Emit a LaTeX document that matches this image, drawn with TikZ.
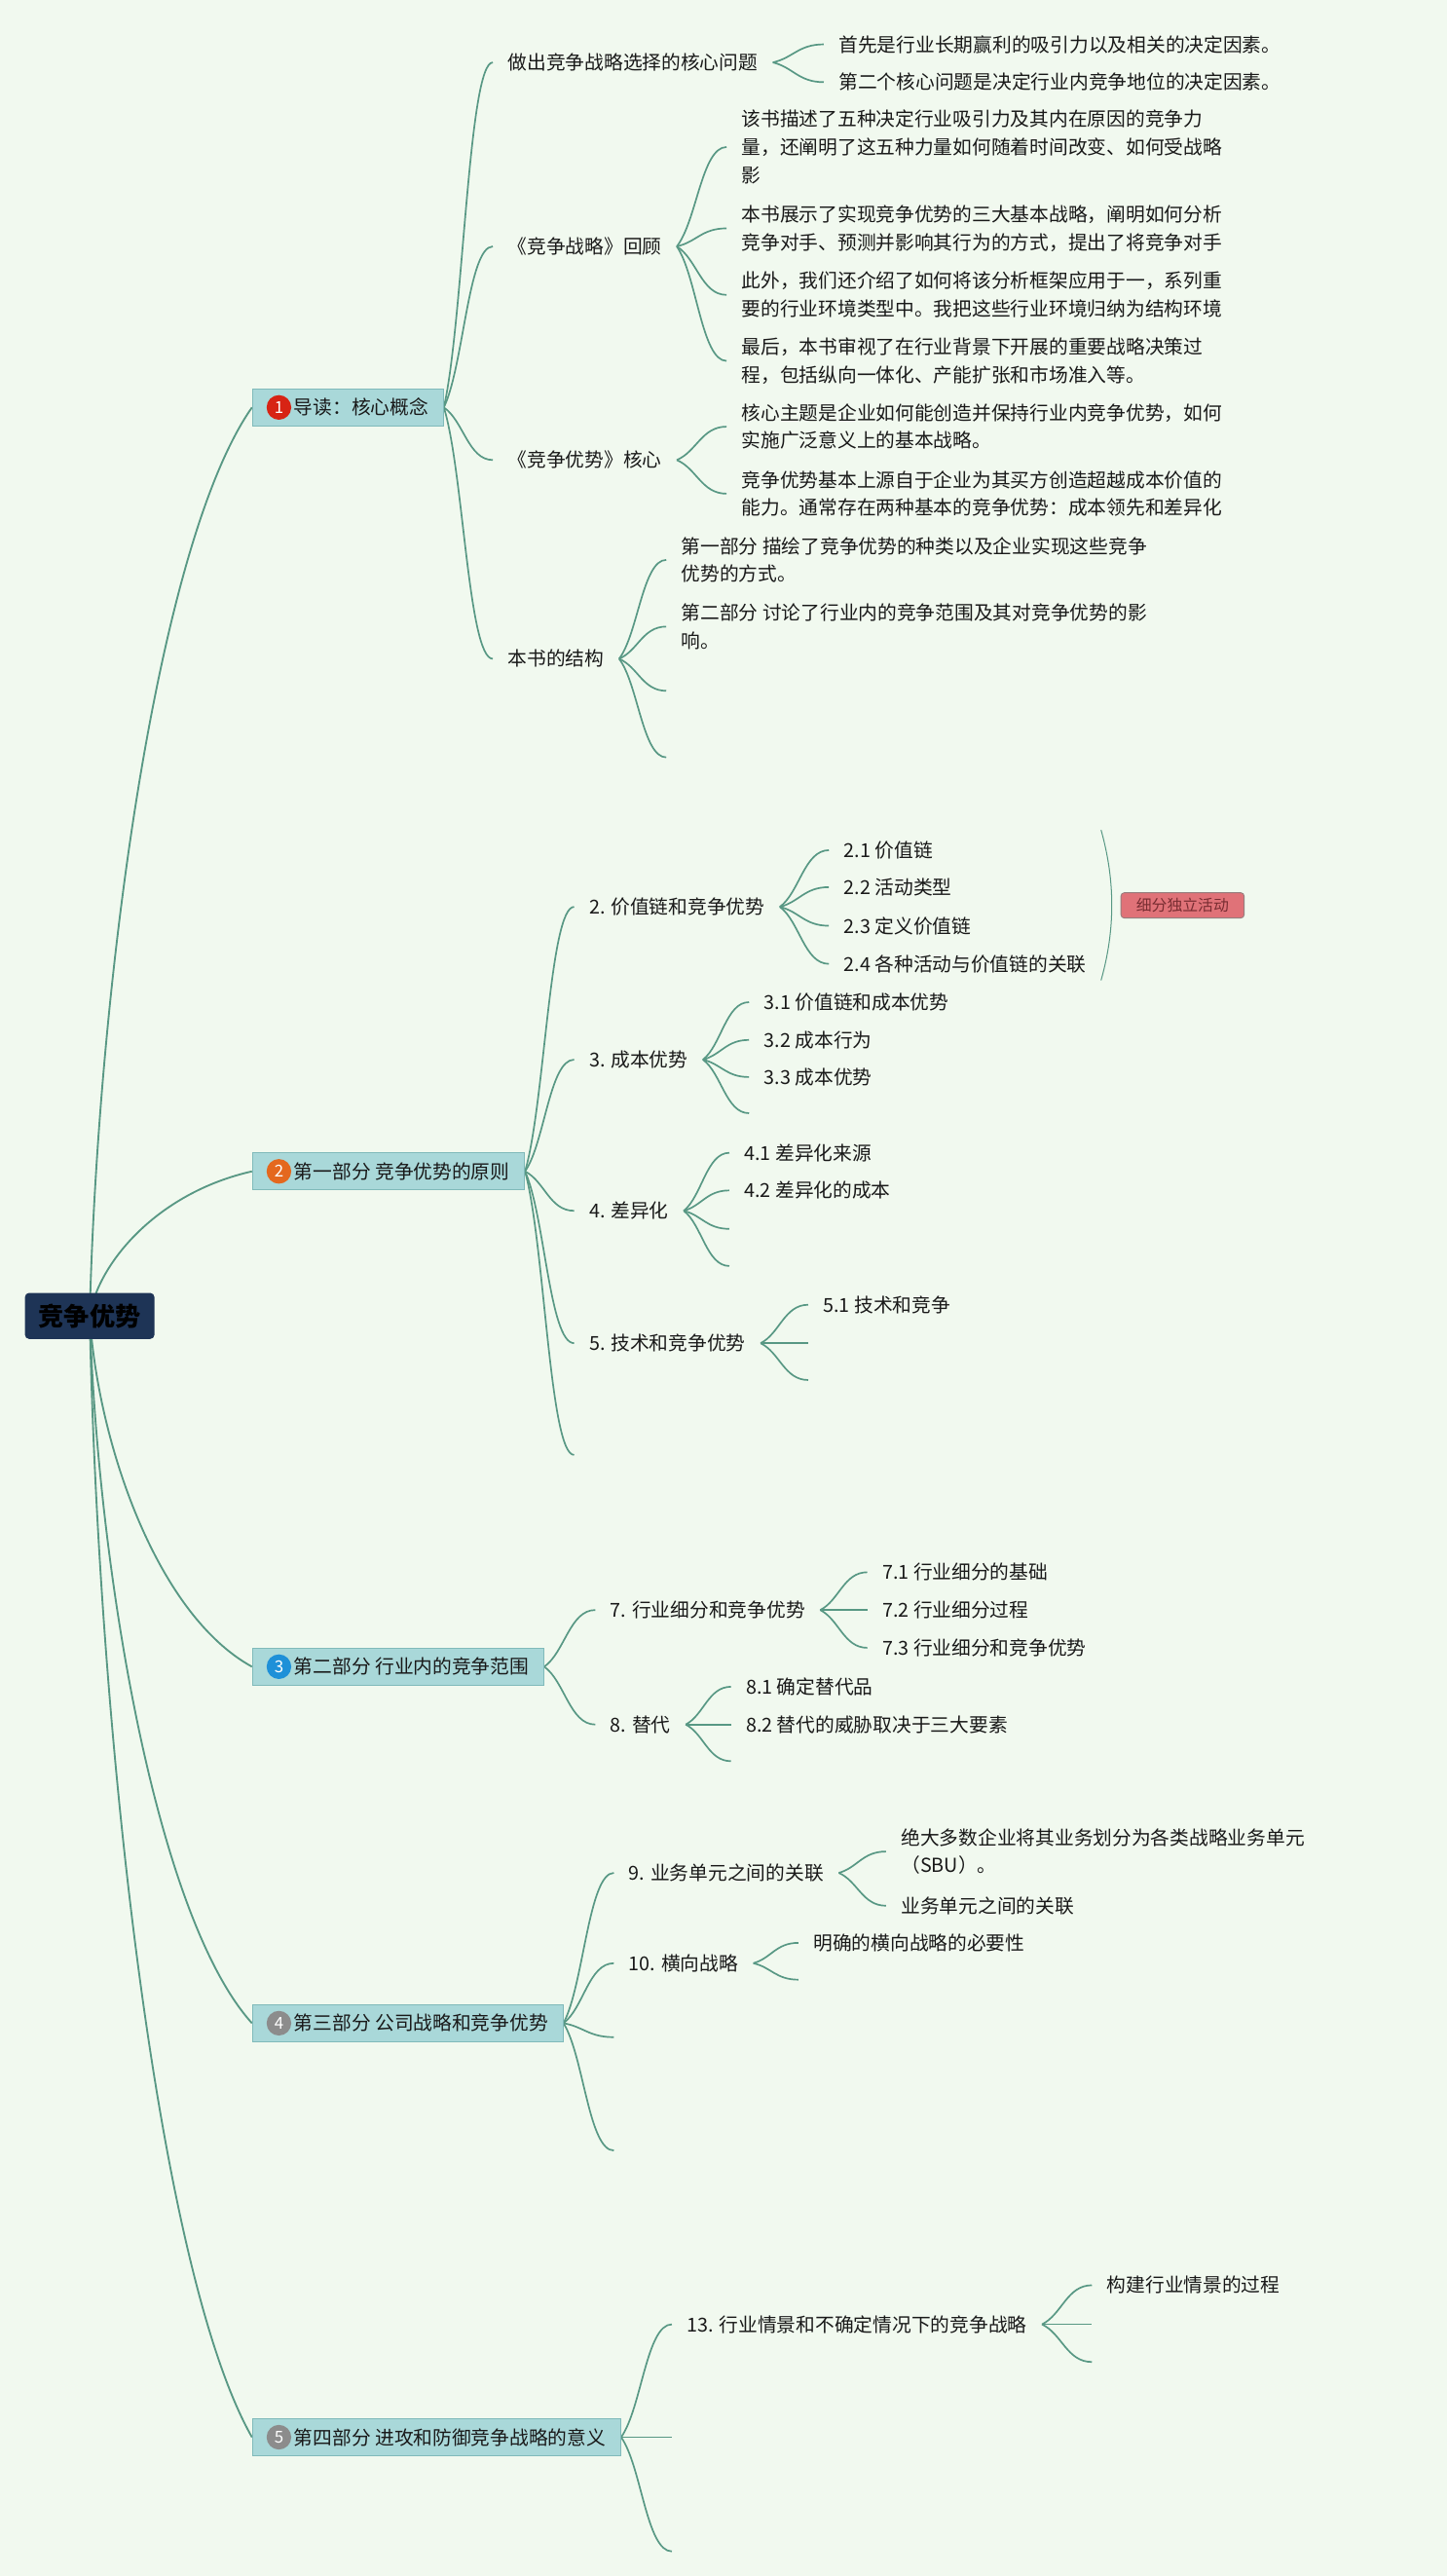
\documentclass[tikz,border=0pt]{standalone}
\usepackage{fontspec}
\setmainfont{Noto Sans CJK SC}
\usetikzlibrary{calc}
\definecolor{bgc}{RGB}{241,249,239}
\definecolor{lnc}{RGB}{88,152,132}
\definecolor{l1fill}{RGB}{169,216,217}
\definecolor{l1draw}{RGB}{128,186,186}
\definecolor{rootc}{RGB}{30,52,86}
\definecolor{txt}{RGB}{25,25,25}
\definecolor{nred}{RGB}{215,35,20}
\definecolor{norange}{RGB}{228,104,30}
\definecolor{nblue}{RGB}{30,144,216}
\definecolor{ngray}{RGB}{140,140,140}
\definecolor{sumfill}{RGB}{224,114,120}
\definecolor{sumdraw}{RGB}{150,125,125}
\definecolor{sumtxt}{RGB}{120,45,50}
\pgfdeclarelayer{bg}\pgfdeclarelayer{lines}\pgfsetlayers{bg,lines,main}
\begin{document}
\begin{tikzpicture}[x=1pt,y=-1pt,
  br/.style={draw=lnc, line width=1pt, to path={let \p1=(\tikztostart), \p2=(\tikztotarget) in
     .. controls ({\x1+0.4*(\x2-\x1)},{\y1+0.25*(\y2-\y1)}) and ({\x1+0.5*(\x2-\x1)},\y2) .. (\tikztotarget)}},
  rt/.style={draw=lnc, line width=1.1pt, to path={let \p1=(\tikztostart), \p2=(\tikztotarget) in
     .. controls ({\x1+0.05*(\x2-\x1)},{\y1+0.36*(\y2-\y1)}) and ({\x1+0.41*(\x2-\x1)},{\y1+0.85*(\y2-\y1)}) .. (\tikztotarget)}},
  tx/.style={anchor=west, inner xsep=9pt, inner ysep=1pt, text=txt, font=\fontsize{11.7pt}{17pt}\selectfont},
  txm/.style={tx, align=left},
  l1/.style={anchor=west, draw=l1draw, fill=l1fill, line width=0.6pt, inner xsep=9pt, inner ysep=0pt,
     minimum height=22.8pt, text=txt, font=\fontsize{11.7pt}{14pt}\selectfont},
  num/.style={circle, minimum size=15pt, inner sep=0pt, text=white, font=\fontsize{10pt}{10pt}\selectfont},
  rootbox/.style={rounded corners=2.5pt, fill=rootc, text=black, font=\fontsize{15.5pt}{18pt}\selectfont\bfseries,
     minimum width=78.8pt, minimum height=28pt, inner sep=0pt},
  sumbox/.style={rounded corners=2pt, fill=sumfill, draw=sumdraw, line width=0.5pt, text=sumtxt,
     font=\fontsize{9.4pt}{11pt}\selectfont, minimum width=75pt, minimum height=15.4pt, inner sep=0pt}
]
\useasboundingbox (0,0) rectangle (881,1568);
\begin{pgfonlayer}{bg}
\fill[bgc] (0,0) rectangle (881,1568);
\end{pgfonlayer}

% root
\node[rootbox] (root) at (54.6,801) {竞争优势};

% level 1
\node[l1] (b1) at (153.4,248) {\hspace*{16.3pt}导读：核心概念};
\node[num, fill=nred] (n1) at ([xshift=16.4pt]b1.west) {1};
\node[l1] (b2) at (153.4,713) {\hspace*{16.3pt}第一部分 竞争优势的原则};
\node[num, fill=norange] (n2) at ([xshift=16.4pt]b2.west) {2};
\node[l1] (b3) at (153.4,1014.5) {\hspace*{16.3pt}第二部分 行业内的竞争范围};
\node[num, fill=nblue] (n3) at ([xshift=16.4pt]b3.west) {3};
\node[l1] (b4) at (153.4,1231.5) {\hspace*{16.3pt}第三部分 公司战略和竞争优势};
\node[num, fill=ngray] (n4) at ([xshift=16.4pt]b4.west) {4};
\node[l1] (b5) at (153.4,1483.5) {\hspace*{16.3pt}第四部分 进攻和防御竞争战略的意义};
\node[num, fill=ngray] (n5) at ([xshift=16.4pt]b5.west) {5};

% branch 1
\node[tx] (c11) at (300,38) {做出竞争战略选择的核心问题};
\node[tx] (c111) at (501.5,27) {首先是行业长期赢利的吸引力以及相关的决定因素。};
\node[tx] (c112) at (501.5,50) {第二个核心问题是决定行业内竞争地位的决定因素。};
\node[tx] (c12) at (300,150) {《竞争战略》回顾};
\node[txm] (c121) at (442.3,89.5) {该书描述了五种决定行业吸引力及其内在原因的竞争力\\量，还阐明了这五种力量如何随着时间改变、如何受战略\\影};
\node[txm] (c122) at (442.3,139) {本书展示了实现竞争优势的三大基本战略，阐明如何分析\\竞争对手、预测并影响其行为的方式，提出了将竞争对手};
\node[txm] (c123) at (442.3,179.5) {此外，我们还介绍了如何将该分析框架应用于一，系列重\\要的行业环境类型中。我把这些行业环境归纳为结构环境};
\node[txm] (c124) at (442.3,219.7) {最后，本书审视了在行业背景下开展的重要战略决策过\\程，包括纵向一体化、产能扩张和市场准入等。};
\node[tx] (c13) at (300,280) {《竞争优势》核心};
\node[txm] (c131) at (442.3,259.7) {核心主题是企业如何能创造并保持行业内竞争优势，如何\\实施广泛意义上的基本战略。};
\node[txm] (c132) at (442.3,300.5) {竞争优势基本上源自于企业为其买方创造超越成本价值的\\能力。通常存在两种基本的竞争优势：成本领先和差异化};
\node[tx] (c14) at (300,401) {本书的结构};
\node[txm] (c141) at (405.6,340.8) {第一部分 描绘了竞争优势的种类以及企业实现这些竞争\\优势的方式。};
\node[txm] (c142) at (405.6,381.4) {第二部分 讨论了行业内的竞争范围及其对竞争优势的影\\响。};
\coordinate (e143) at (405.6,420.5);
\coordinate (e144) at (405.6,461);

% branch 2
\node[tx] (c21) at (349.5,552) {2. 价值链和竞争优势};
\node[tx] (c211) at (504.6,517.5) {2.1 价值链};
\node[tx] (c212) at (504.6,540) {2.2 活动类型};
\node[tx] (c213) at (504.6,563.5) {2.3 定义价值链};
\node[tx] (c214) at (504.6,586.7) {2.4 各种活动与价值链的关联};
\node[tx] (c22) at (349.5,645) {3. 成本优势};
\node[tx] (c221) at (456,610) {3.1 价值链和成本优势};
\node[tx] (c222) at (456,633) {3.2 成本行为};
\node[tx] (c223) at (456,655.6) {3.3 成本优势};
\coordinate (e224) at (456,677.6);
\node[tx] (c23) at (349.5,737) {4. 差异化};
\node[tx] (c231) at (444,701.7) {4.1 差异化来源};
\node[tx] (c232) at (444,724.6) {4.2 差异化的成本};
\coordinate (e233) at (444,748);
\coordinate (e234) at (444,770.6);
\node[tx] (c24) at (349.5,817.6) {5. 技术和竞争优势};
\node[tx] (c241) at (492,794.2) {5.1 技术和竞争};
\coordinate (e242) at (492,817.6);
\coordinate (e243) at (492,840);
\coordinate (e25) at (349.5,885.6);
\coordinate (brA) at (670.3,505.2);
\coordinate (brB) at (670.3,596.7);
\node[sumbox] (sum) at (719.9,551.1) {细分独立活动};

% branch 3
\node[tx] (c31) at (362.4,980) {7. 行业细分和竞争优势};
\node[tx] (c311) at (528,957) {7.1 行业细分的基础};
\node[tx] (c312) at (528,980) {7.2 行业细分过程};
\node[tx] (c313) at (528,1003) {7.3 行业细分和竞争优势};
\node[tx] (c32) at (362.4,1049.7) {8. 替代};
\node[tx] (c321) at (445,1026.7) {8.1 确定替代品};
\node[tx] (c322) at (445,1049.7) {8.2 替代的威胁取决于三大要素};
\coordinate (e323) at (445,1072);

% branch 4
\node[tx] (c41) at (373.7,1140) {9. 业务单元之间的关联};
\node[txm] (c411) at (539.4,1127) {绝大多数企业将其业务划分为各类战略业务单元\\（SBU）。};
\node[tx] (c412) at (539.4,1160) {业务单元之间的关联};
\node[tx] (c42) at (373.7,1195) {10. 横向战略};
\node[tx] (c421) at (486,1182.6) {明确的横向战略的必要性};
\coordinate (e422) at (486,1205);
\coordinate (e43) at (373.7,1240);
\coordinate (e44) at (373.7,1309);

% branch 5
\node[tx] (c51) at (409,1414.8) {13. 行业情景和不确定情况下的竞争战略};
\node[tx] (c511) at (664.7,1391) {构建行业情景的过程};
\coordinate (e512) at (664.7,1414.8);
\coordinate (e513) at (664.7,1437.7);
\coordinate (e52) at (409,1483.5);
\coordinate (e53) at (409,1553);

% connectors
\begin{pgfonlayer}{lines}
\foreach \t in {b1,b2,b3,b4,b5} \draw[rt] (root.center) to (\t.west);
\foreach \t in {c11,c12,c13,c14} \draw[br] (b1.east) to (\t.west);
\foreach \t in {c111,c112} \draw[br] (c11.east) to (\t.west);
\foreach \t in {c121,c122,c123,c124} \draw[br] (c12.east) to (\t.west);
\foreach \t in {c131,c132} \draw[br] (c13.east) to (\t.west);
\foreach \t in {c141.west,c142.west,e143,e144} \draw[br] (c14.east) to (\t);
\foreach \t in {c21.west,c22.west,c23.west,c24.west,e25} \draw[br] (b2.east) to (\t);
\foreach \t in {c211,c212,c213,c214} \draw[br] (c21.east) to (\t.west);
\foreach \t in {c221.west,c222.west,c223.west,e224} \draw[br] (c22.east) to (\t);
\foreach \t in {c231.west,c232.west,e233,e234} \draw[br] (c23.east) to (\t);
\foreach \t in {c241.west,e242,e243} \draw[br] (c24.east) to (\t);
\draw[draw=lnc, line width=0.6pt] (brA) .. controls (679,536) and (679,566) .. (brB);
\foreach \t in {c31,c32} \draw[br] (b3.east) to (\t.west);
\foreach \t in {c311,c312,c313} \draw[br] (c31.east) to (\t.west);
\foreach \t in {c321.west,c322.west,e323} \draw[br] (c32.east) to (\t);
\foreach \t in {c41.west,c42.west,e43,e44} \draw[br] (b4.east) to (\t);
\foreach \t in {c411,c412} \draw[br] (c41.east) to (\t.west);
\foreach \t in {c421.west,e422} \draw[br] (c42.east) to (\t);
\foreach \t in {c51.west,e52,e53} \draw[br] (b5.east) to (\t);
\foreach \t in {c511.west,e512,e513} \draw[br] (c51.east) to (\t);
\end{pgfonlayer}
\end{tikzpicture}
\end{document}
